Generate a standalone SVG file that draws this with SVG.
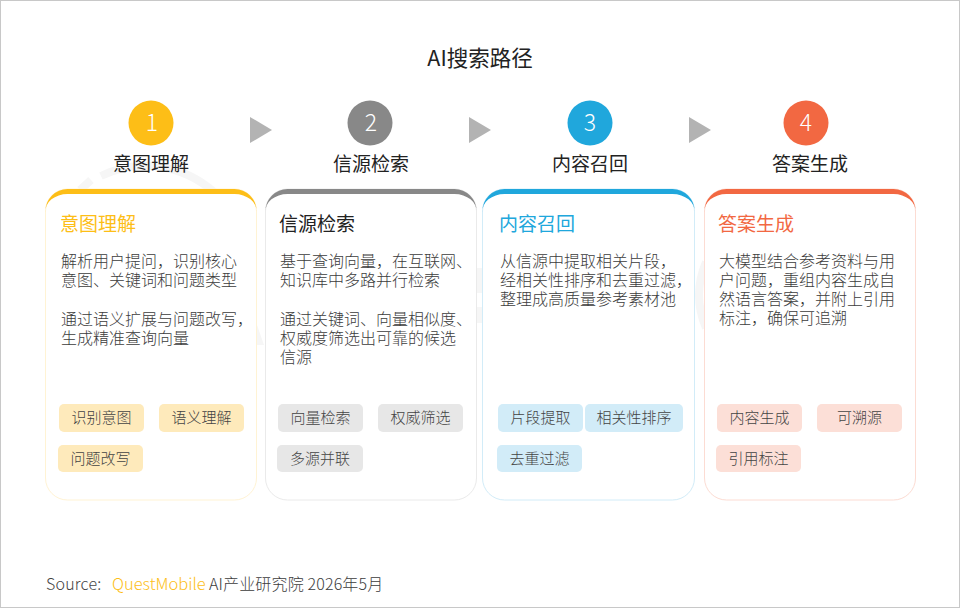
<svg xmlns="http://www.w3.org/2000/svg" width="960" height="608" viewBox="0 0 960 608">
<style>
text{font-family:"Noto Sans CJK SC","Noto Sans",sans-serif;font-weight:300}
.t{font-size:16px;fill:#3c3c3c}
.h{font-size:19px;fill:#222;text-anchor:middle;font-weight:400}
.ct{font-size:19px;font-weight:400}
.n{font-size:23px;fill:#fff;text-anchor:middle}
.g{font-size:15px;fill:#444;text-anchor:middle}
.arr{fill:#b3b3b3}
.wm{fill:none;stroke:#f6f6f6;stroke-width:8}
</style>
<rect x="0.500" y="0.500" width="959" height="607" fill="#fff" stroke="#c8c8c8"/>
<path class="wm" d="M101 176A103 103 0 0 1 214 192"/>
<path class="wm" d="M80 190L91 180"/>
<polygon points="257,345 264,345 257,325" fill="#f6f6f6"/>
<rect x="476" y="268" width="7" height="25" fill="#f6f6f6"/>
<rect x="476" y="307" width="7" height="16" fill="#f6f6f6"/>
<path class="wm" d="M706 262Q692 295 706 328"/>
<text x="480" y="66" text-anchor="middle" font-size="21.500" fill="#222" style="font-weight:400">AI搜索路径</text>
<g id="connectors">
<polygon class="arr" points="250,117 272,130 250,143"/>
<polygon class="arr" points="469,117 491,130 469,143"/>
<polygon class="arr" points="689,117 711,130 689,143"/>
</g>
<g id="step1"><circle cx="151" cy="123" r="22.500" fill="#fdbe17"/><text class="n" x="152" y="131">1</text><text class="h" x="151" y="171">意图理解</text></g>
<g id="step2"><circle cx="370" cy="123" r="22.500" fill="#888"/><text class="n" x="371" y="131">2</text><text class="h" x="371" y="171">信源检索</text></g>
<g id="step3"><circle cx="590" cy="123" r="22.500" fill="#20a7dc"/><text class="n" x="590" y="131">3</text><text class="h" x="590" y="171">内容召回</text></g>
<g id="step4"><circle cx="806" cy="123" r="22.500" fill="#f26842"/><text class="n" x="806" y="131">4</text><text class="h" x="810" y="171">答案生成</text></g>
<g id="card1">
<rect x="45.500" y="189" width="211" height="311" rx="22" fill="#fff" stroke="#fff3d4"/>
<path d="M45.500 212V211A22 22 0 0 1 67.500 189H234.500A22 22 0 0 1 256.500 211V212A22 17 0 0 0 234.500 194H67.500A22 17 0 0 0 45.500 212Z" fill="#fdbe17"/>
<text class="ct" x="60" y="231" fill="#fdbe17">意图理解</text>
<text class="t" x="61" y="267">解析用户提问，识别核心</text><text class="t" x="61" y="286">意图、关键词和问题类型</text>
<text class="t" x="61" y="325">通过语义扩展与问题改写，</text><text class="t" x="61" y="344">生成精准查询向量</text>
<rect x="59" y="404" width="85" height="28" rx="5" fill="#feeabb"/><text class="g" x="101.500" y="423">识别意图</text>
<rect x="159" y="404" width="85" height="28" rx="5" fill="#feeabb"/><text class="g" x="201.500" y="423">语义理解</text>
<rect x="58" y="445" width="85" height="27" rx="5" fill="#feeabb"/><text class="g" x="100.500" y="464">问题改写</text>
</g>
<g id="card2">
<rect x="265.500" y="189" width="211" height="311" rx="22" fill="#fff" stroke="#eaeaea"/>
<path d="M265.500 212V211A22 22 0 0 1 287.500 189H454.500A22 22 0 0 1 476.500 211V212A22 17 0 0 0 454.500 194H287.500A22 17 0 0 0 265.500 212Z" fill="#888"/>
<text class="ct" x="279" y="231" fill="#222">信源检索</text>
<text class="t" x="280" y="267">基于查询向量，在互联网、</text><text class="t" x="280" y="286">知识库中多路并行检索</text>
<text class="t" x="280" y="325">通过关键词、向量相似度、</text><text class="t" x="280" y="344">权威度筛选出可靠的候选</text><text class="t" x="280" y="363">信源</text>
<rect x="278" y="404" width="85" height="28" rx="5" fill="#e7e7e7"/><text class="g" x="320.500" y="423">向量检索</text>
<rect x="378" y="404" width="85" height="28" rx="5" fill="#e7e7e7"/><text class="g" x="420.500" y="423">权威筛选</text>
<rect x="277" y="445" width="86" height="27" rx="5" fill="#e7e7e7"/><text class="g" x="320" y="464">多源并联</text>
</g>
<g id="card3">
<rect x="482.500" y="189" width="212" height="311" rx="22" fill="#fff" stroke="#d2ecf8"/>
<path d="M482.500 212V211A22 22 0 0 1 504.500 189H672.500A22 22 0 0 1 694.500 211V212A22 17 0 0 0 672.500 194H504.500A22 17 0 0 0 482.500 212Z" fill="#20a7dc"/>
<text class="ct" x="499" y="231" fill="#20a7dc">内容召回</text>
<text class="t" x="500" y="267">从信源中提取相关片段，</text><text class="t" x="500" y="286">经相关性排序和去重过滤，</text><text class="t" x="500" y="305">整理成高质量参考素材池</text>
<rect x="498" y="404" width="85" height="28" rx="5" fill="#d2ecf8"/><text class="g" x="540.500" y="423">片段提取</text>
<rect x="585" y="404" width="98" height="28" rx="5" fill="#d2ecf8"/><text class="g" x="634" y="423">相关性排序</text>
<rect x="497" y="445" width="85" height="27" rx="5" fill="#d2ecf8"/><text class="g" x="539.500" y="464">去重过滤</text>
</g>
<g id="card4">
<rect x="704.500" y="189" width="211" height="311" rx="22" fill="#fff" stroke="#fcdcd3"/>
<path d="M704.500 212V211A22 22 0 0 1 726.500 189H893.500A22 22 0 0 1 915.500 211V212A22 17 0 0 0 893.500 194H726.500A22 17 0 0 0 704.500 212Z" fill="#f26842"/>
<text class="ct" x="718" y="231" fill="#f26842">答案生成</text>
<text class="t" x="719" y="267">大模型结合参考资料与用</text><text class="t" x="719" y="286">户问题，重组内容生成自</text><text class="t" x="719" y="305">然语言答案，并附上引用</text><text class="t" x="719" y="324">标注，确保可追溯</text>
<rect x="717" y="404" width="85" height="28" rx="5" fill="#fcdfd7"/><text class="g" x="759.500" y="423">内容生成</text>
<rect x="817" y="404" width="85" height="28" rx="5" fill="#fcdfd7"/><text class="g" x="859.500" y="423">可溯源</text>
<rect x="716" y="445" width="85" height="27" rx="5" fill="#fcdfd7"/><text class="g" x="758.500" y="464">引用标注</text>
</g>
<g id="source">
<text x="46" y="590" font-size="16" fill="#444" letter-spacing=".2">Source:</text>
<text x="112" y="590" font-size="16.500" fill="#fdbe17">QuestMobile</text>
<text x="209" y="590" font-size="16" fill="#3c3c3c" letter-spacing=".15">AI产业研究院 2026年5月</text>
</g>
</svg>
